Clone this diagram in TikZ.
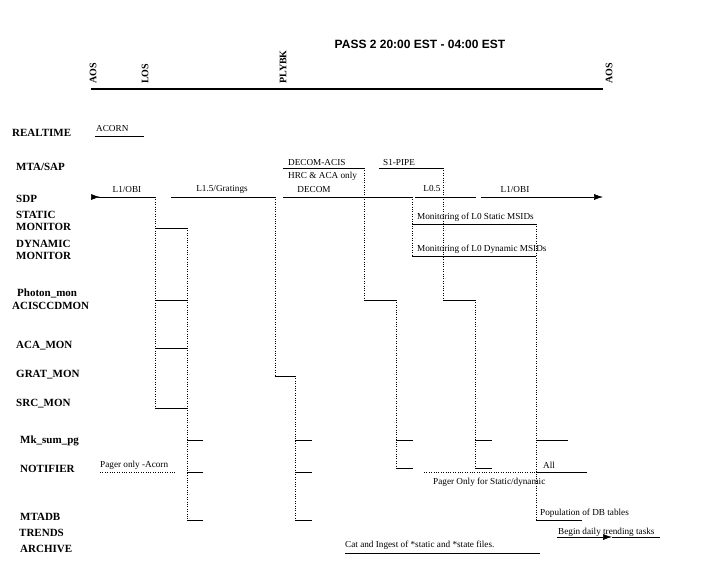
\documentclass[tikz,border=0pt]{standalone}
\usepackage{fontspec}
\setmainfont{Liberation Serif}
\newfontfamily\headfont{Liberation Sans}
\usetikzlibrary{arrows.meta}

\begin{document}
\begin{tikzpicture}[x=1pt,y=-1pt,
    row/.style={anchor=west,inner sep=0pt,align=left,
                font=\fontsize{11}{12}\selectfont\bfseries},
    lbl/.style={inner sep=0pt,font=\fontsize{9.2}{10}\selectfont},
    epoch/.style={rotate=90,anchor=west,inner sep=0pt,
                  font=\fontsize{10}{11}\selectfont\bfseries},
    run/.style={line width=0.6pt},
    hand/.style={line width=0.6pt,dash pattern=on 0.8pt off 1.6pt},
    head/.tip={Latex[length=9pt,width=6pt]}]
  \useasboundingbox (0,0) rectangle (707,565);

  % heading and pass time line
  \node[inner sep=0pt,font=\fontsize{12}{13}\headfont\bfseries] (title) at (420,44)
    {PASS 2 20:00 EST - 04:00 EST};
  \draw[line width=1.5pt] (91,89) -- (603,89);
  \node[epoch] (aos1) at (93,84) {AOS};
  \node[epoch] (los) at (145,84) {LOS};
  \node[epoch] (plybk) at (283,84) {PLYBK};
  \node[epoch] (aos2) at (609,84) {AOS};

  % rows
  \node[row] (realtime) at (12,133) {REALTIME};
  \node[row] (mtasap) at (16,167) {MTA/SAP};
  \node[row] (sdp) at (16,199) {SDP};
  \node[row] (static) at (16,221) {STATIC\\MONITOR};
  \node[row] (dynamic) at (16,250) {DYNAMIC\\MONITOR};
  \node[row] (photon) at (17,293) {Photon\_mon};
  \node[row] (acis) at (12,306) {ACISCCDMON};
  \node[row] (aca) at (16,346) {ACA\_MON};
  \node[row] (grat) at (16,375) {GRAT\_MON};
  \node[row] (src) at (16,404) {SRC\_MON};
  \node[row] (mksum) at (20,441) {Mk\_sum\_pg};
  \node[row] (notifier) at (20,469) {NOTIFIER};
  \node[row] (mtadb) at (20,517) {MTADB};
  \node[row] (trends) at (19,533) {TRENDS};
  \node[row] (archive) at (20,549) {ARCHIVE};

  % REALTIME and MTA/SAP
  \node[lbl,anchor=west] (acorn) at (96,128) {ACORN};
  \draw[run] (95,136) -- (144,136);
  \node[lbl,anchor=west] (decacis) at (288,162) {DECOM-ACIS};
  \node[lbl,anchor=west] (hrcaca) at (288,176) {HRC \& ACA only};
  \draw[run] (283,168) -- (364,168);
  \node[lbl,anchor=west] (sipipe) at (383,162) {S1-PIPE};
  \draw[run] (379,168) -- (443,168);

  % SDP
  \node[lbl] (obi1) at (127,189) {L1/OBI};
  \node[lbl] (l15) at (222,189) {L1.5/Gratings};
  \node[lbl] (decom) at (314,189) {DECOM};
  \node[lbl] (l05) at (432,189) {L0.5};
  \node[lbl] (obi2) at (515,189) {L1/OBI};
  \draw[run,{head[reversed]}-] (91,197) -- (155,197);
  \draw[run] (171,197) -- (275,197);
  \draw[run] (283,197) -- (412,197);
  \draw[run] (415,197) -- (476,197);
  \draw[run,-head] (481,197) -- (603,197);

  % monitors
  \node[lbl,anchor=west] (monstat) at (417,217) {Monitoring of L0 Static MSIDs};
  \node[lbl,anchor=west] (mondyn) at (417,249) {Monitoring of L0 Dynamic MSIDs};
  \draw[run] (412,224) -- (536,224);
  \draw[run] (412,256) -- (536,256);
  \foreach \y in {228,300,348,408}
    \draw[run] (155,\y) -- (187,\y);
  \draw[run] (275,376) -- (295,376);
  \draw[run] (364,300) -- (396,300);
  \draw[run] (443,300) -- (475,300);

  % hand-offs
  \foreach \x/\a/\b in {155/197/408,275/197/376,364/168/300,443/168/300,
                        412/197/256,187/228/520,295/376/520,396/300/468,
                        475/300/468,536/224/520}
    \draw[hand] (\x,\a) -- (\x,\b);

  % summary pages, notifier, database
  \foreach \x/\w in {187/16,295/17}
    \foreach \y in {440,472,520}
      \draw[run] (\x,\y) -- ++(\w,0);
  \foreach \x in {396,475}
    \foreach \y in {440,468}
      \draw[run] (\x,\y) -- ++(17,0);
  \draw[run] (536,440) -- (568,440);
  \node[lbl,anchor=west] (pgacorn) at (100,465) {Pager only -Acorn};
  \draw[hand] (100,472) -- (176,472);
  \node[lbl,anchor=west] (all) at (543,465) {All};
  \draw[run] (536,472) -- (587,472);
  \node[lbl,anchor=west] (pgstat) at (433,482) {Pager Only for Static/dynamic};
  \draw[hand] (424,472) -- (536,472);
  \node[lbl,anchor=west] (popdb) at (540,513) {Population of DB tables};
  \draw[run] (536,520) -- (582,520);
  \node[lbl,anchor=west] (begin) at (558,532) {Begin daily trending tasks};
  \draw[run,-head] (557,537) -- (612,537);
  \draw[run] (612,537) -- (660,537);
  \node[lbl,anchor=west] (catingest) at (345,545) {Cat and Ingest of *static and *state files.};
  \draw[run] (345,553) -- (540,553);
\end{tikzpicture}
\end{document}
